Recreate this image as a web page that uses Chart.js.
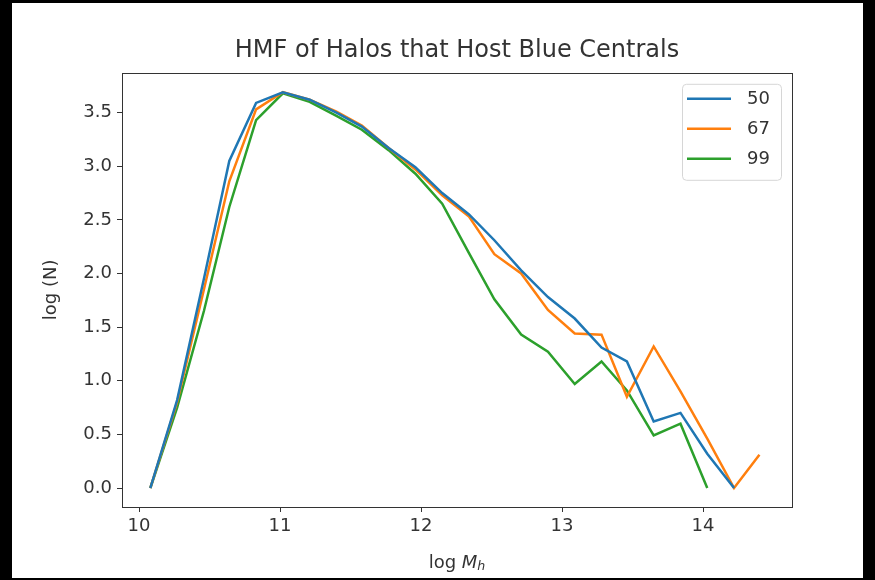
<!DOCTYPE html>
<html lang="en">
<head>
    <meta charset="UTF-8">
    <title>HMF of Halos that Host Blue Centrals</title>
    <script src="https://cdn.jsdelivr.net/npm/chart.js"></script>
    <style>
        body {
            margin: 0;
            background: #000;
            width: 875px;
            height: 580px;
            overflow: hidden;
        }

        /* white figure area inside the black screenshot edges */
        .frame {
            position: absolute;
            left: 12px;
            top: 3px;
            width: 851px;
            height: 575px;
            background: #fff;
        }
    </style>
</head>
<body>

<div class="frame">
    <canvas id="hmfChart"></canvas>
</div>

<script>
    // bin centres, log M_h
    const logMh = [10.08, 10.27, 10.46, 10.64, 10.83, 11.02, 11.21, 11.40, 11.58, 11.77, 11.96, 12.15,
                   12.34, 12.52, 12.71, 12.90, 13.09, 13.28, 13.46, 13.65, 13.84, 14.03, 14.22, 14.40];

    // log (N) for each percentile cut
    const hmf50 = [0.00, 0.82, 1.95, 3.05, 3.59, 3.69, 3.62, 3.50, 3.37, 3.17, 2.99, 2.75,
                   2.55, 2.31, 2.03, 1.78, 1.58, 1.31, 1.18, 0.62, 0.70, 0.32, 0.00];
    const hmf67 = [0.00, 0.80, 1.85, 2.86, 3.53, 3.69, 3.62, 3.51, 3.38, 3.17, 2.97, 2.73,
                   2.53, 2.18, 2.00, 1.66, 1.44, 1.43, 0.85, 1.32, 0.90, 0.46, 0.00, 0.31];
    const hmf99 = [0.00, 0.75, 1.65, 2.62, 3.43, 3.68, 3.60, 3.47, 3.34, 3.15, 2.93, 2.65,
                   2.19, 1.76, 1.43, 1.27, 0.97, 1.18, 0.91, 0.49, 0.60, 0.00];

    const seriesLabels = ["50", "67", "99"];
    const seriesColors = ["#1f77b4", "#ff7f0e", "#2ca02c"];

    const xTicks = [10, 11, 12, 13, 14];
    const yTicks = [0, 0.5, 1, 1.5, 2, 2.5, 3, 3.5];

    const FONT = '"DejaVu Sans", sans-serif';
    const INK = "#333";

    Chart.defaults.font.family = FONT;
    Chart.defaults.color = INK;

    function toPoints(ys) {
        return ys.map((y, i) => ({ x: logMh[i], y: y }));
    }

    // box round the plot, like matplotlib spines
    const spines = {
        id: "spines",
        afterDraw(chart) {
            const { ctx, chartArea: a } = chart;
            ctx.save();
            ctx.strokeStyle = INK;
            ctx.lineWidth = 1;
            ctx.strokeRect(Math.round(a.left) + 0.5, Math.round(a.top) + 0.5,
                           Math.round(a.right - a.left), Math.round(a.bottom - a.top));
            ctx.restore();
        }
    };

    // legend box in the upper right corner
    const boxLegend = {
        id: "boxLegend",
        afterDraw(chart) {
            const { ctx, chartArea: a } = chart;
            const w = 99, h = 96;
            const x0 = a.right - 11, y0 = a.top + 11;
            const left = x0 - w;
            ctx.save();
            ctx.fillStyle = "rgba(255,255,255,0.8)";
            ctx.strokeStyle = "#d6d6d6";
            ctx.lineWidth = 1;
            ctx.beginPath();
            ctx.roundRect(left + 0.5, y0 + 0.5, w, h, 4);
            ctx.fill();
            ctx.stroke();

            ctx.font = "18px " + FONT;
            ctx.textBaseline = "middle";
            chart.data.datasets.forEach((ds, i) => {
                const y = y0 + 15 + i * 30;
                ctx.strokeStyle = ds.borderColor;
                ctx.lineWidth = 2.5;
                ctx.beginPath();
                ctx.moveTo(left + 5, y);
                ctx.lineTo(left + 49, y);
                ctx.stroke();
                ctx.fillStyle = INK;
                ctx.fillText(ds.label, left + 65, y + 1);
            });
            ctx.restore();
        }
    };

    // x axis title with italic M and subscript h
    const xTitle = {
        id: "xTitle",
        afterDraw(chart) {
            const { ctx, chartArea: a } = chart;
            const parts = [
                { t: "log ", f: "18px " + FONT, dy: 0 },
                { t: "M", f: "italic 18px " + FONT, dy: 0 },
                { t: "h", f: "italic 12.6px " + FONT, dy: 4 }
            ];
            ctx.save();
            ctx.fillStyle = INK;
            ctx.textBaseline = "middle";
            let total = 0;
            parts.forEach(p => { ctx.font = p.f; p.w = ctx.measureText(p.t).width; total += p.w; });
            let x = (a.left + a.right) / 2 - total / 2;
            const y = a.bottom + 56;
            parts.forEach(p => {
                ctx.font = p.f;
                ctx.fillText(p.t, x, y + p.dy);
                x += p.w;
            });
            ctx.restore();
        }
    };

    new Chart(document.getElementById("hmfChart"), {
        type: "line",
        data: {
            datasets: [hmf50, hmf67, hmf99].map((ys, i) => ({
                label: seriesLabels[i],
                data: toPoints(ys),
                borderColor: seriesColors[i],
                backgroundColor: seriesColors[i],
                borderWidth: 2.5,
                pointRadius: 0,
                tension: 0,
                fill: false
            }))
        },
        options: {
            responsive: true,
            maintainAspectRatio: false,
            animation: false,
            events: [],
            layout: { padding: { left: 0, right: 71, top: 0, bottom: 0 } },
            plugins: {
                legend: { display: false },
                tooltip: { enabled: false },
                title: {
                    display: true,
                    text: "HMF of Halos that Host Blue Centrals",
                    fullSize: false,
                    color: INK,
                    font: { size: 24, weight: "normal" },
                    padding: { top: 33, bottom: 8 }
                }
            },
            scales: {
                x: {
                    type: "linear",
                    min: 9.879,
                    max: 14.631,
                    afterBuildTicks: s => { s.ticks = xTicks.map(v => ({ value: v })); },
                    afterFit: s => { s.height = 71; },
                    border: { display: false },
                    grid: { drawOnChartArea: false, drawTicks: true, tickLength: 5, color: INK },
                    ticks: {
                        padding: 4,
                        color: INK,
                        font: { size: 18 },
                        maxRotation: 0,
                        autoSkip: false,
                        callback: v => String(v)
                    }
                },
                y: {
                    min: -0.177,
                    max: 3.871,
                    afterBuildTicks: s => { s.ticks = yTicks.map(v => ({ value: v })); },
                    afterFit: s => { s.width = 110; },
                    border: { display: false },
                    grid: { drawOnChartArea: false, drawTicks: true, tickLength: 5, color: INK },
                    ticks: {
                        padding: 5,
                        color: INK,
                        font: { size: 18 },
                        autoSkip: false,
                        callback: v => v.toFixed(1)
                    },
                    title: {
                        display: true,
                        text: "log (N)",
                        color: INK,
                        font: { size: 18 },
                        padding: { top: 29, bottom: 0 }
                    }
                }
            }
        },
        plugins: [spines, boxLegend, xTitle]
    });
</script>

</body>
</html>
